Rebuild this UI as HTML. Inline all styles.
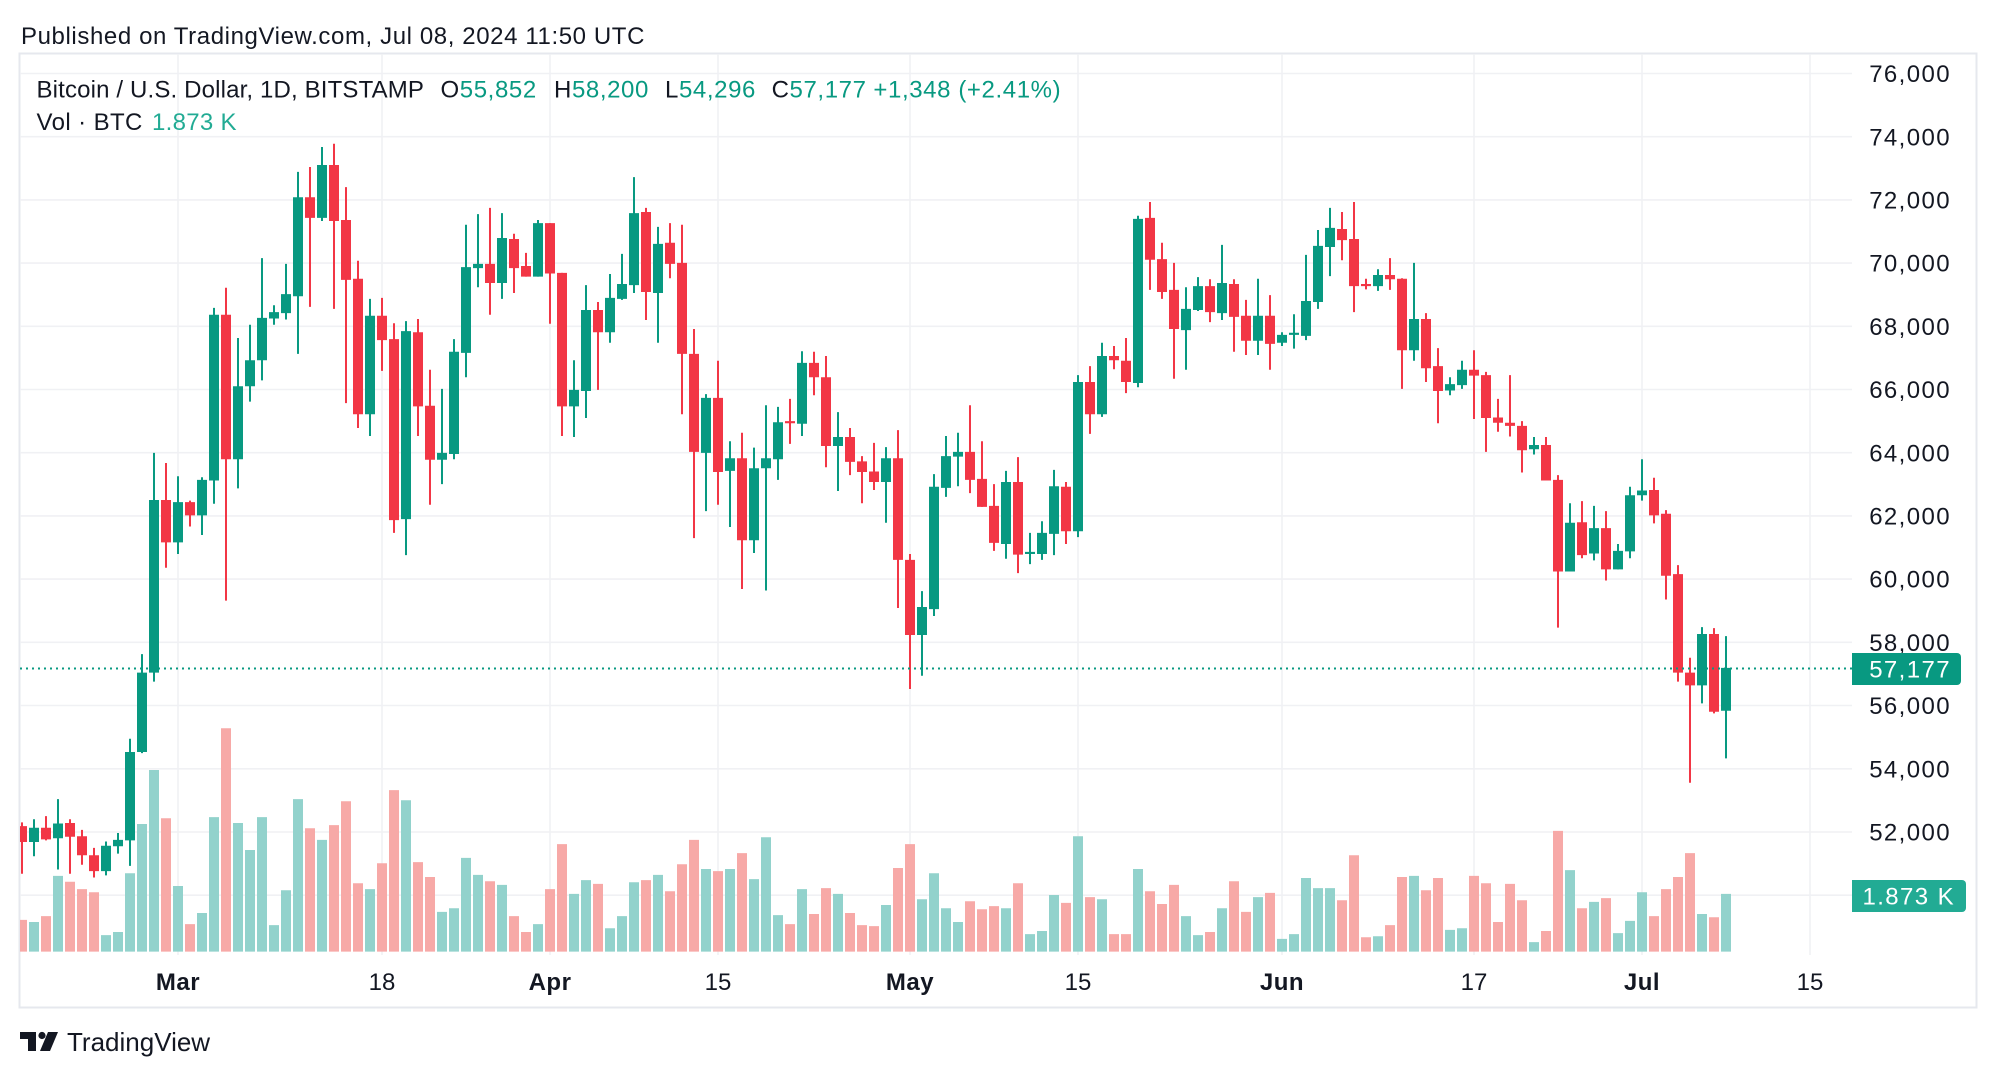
<!DOCTYPE html>
<html><head><meta charset="utf-8"><style>
html,body{margin:0;padding:0;background:#fff;width:1996px;height:1078px;overflow:hidden}
svg{display:block;font-family:"Liberation Sans",sans-serif}
.t{fill:#131722}
.gn{fill:#089981}
.px{font-size:24px;letter-spacing:1.4px;fill:#131722}
</style></head><body>
<svg width="1996" height="1078" viewBox="0 0 1996 1078" xmlns="http://www.w3.org/2000/svg">
<defs><clipPath id="c"><rect x="20" y="54" width="1832" height="902"/></clipPath></defs>
<rect x="0" y="0" width="1996" height="1078" fill="#fff"/>
<text x="21" y="44" font-size="24" letter-spacing="0.6" class="t">Published on TradingView.com, Jul 08, 2024 11:50 UTC</text>
<rect x="19.5" y="53.5" width="1957" height="954" fill="none" stroke="#e6e8ee" stroke-width="2"/>
<g stroke="#f0f1f4" stroke-width="1.6">
<line x1="20" x2="1852" y1="73.5" y2="73.5"/><line x1="20" x2="1852" y1="136.7" y2="136.7"/><line x1="20" x2="1852" y1="199.9" y2="199.9"/><line x1="20" x2="1852" y1="263.1" y2="263.1"/><line x1="20" x2="1852" y1="326.3" y2="326.3"/><line x1="20" x2="1852" y1="389.5" y2="389.5"/><line x1="20" x2="1852" y1="452.7" y2="452.7"/><line x1="20" x2="1852" y1="515.9" y2="515.9"/><line x1="20" x2="1852" y1="579.1" y2="579.1"/><line x1="20" x2="1852" y1="642.3" y2="642.3"/><line x1="20" x2="1852" y1="705.5" y2="705.5"/><line x1="20" x2="1852" y1="768.8" y2="768.8"/><line x1="20" x2="1852" y1="832" y2="832"/><line x1="20" x2="1852" y1="895.2" y2="895.2"/>
<line x1="178" x2="178" y1="54" y2="955"/><line x1="382" x2="382" y1="54" y2="955"/><line x1="550" x2="550" y1="54" y2="955"/><line x1="718" x2="718" y1="54" y2="955"/><line x1="910" x2="910" y1="54" y2="955"/><line x1="1078" x2="1078" y1="54" y2="955"/><line x1="1282" x2="1282" y1="54" y2="955"/><line x1="1474" x2="1474" y1="54" y2="955"/><line x1="1642" x2="1642" y1="54" y2="955"/><line x1="1810" x2="1810" y1="54" y2="955"/>
</g>
<g clip-path="url(#c)">
<g transform="translate(17,130) scale(12,0.52938)">
<path fill="#92d2cc" d="M1 1496h.8333V1552h-.8333zM3 1409h.8333V1552h-.8333zM7 1521h.8333V1552h-.8333zM8 1515h.8333V1552h-.8333zM9 1404h.8333V1552h-.8333zM10 1311h.8333V1552h-.8333zM11 1209h.8333V1552h-.8333zM13 1428h.8333V1552h-.8333zM15 1479h.8333V1552h-.8333zM16 1298h.8333V1552h-.8333zM18 1309h.8333V1552h-.8333zM19 1360h.8333V1552h-.8333zM20 1298h.8333V1552h-.8333zM21 1502h.8333V1552h-.8333zM22 1436h.8333V1552h-.8333zM23 1264h.8333V1552h-.8333zM25 1341h.8333V1552h-.8333zM29 1434h.8333V1552h-.8333zM32 1266h.8333V1552h-.8333zM35 1477h.8333V1552h-.8333zM36 1470h.8333V1552h-.8333zM37 1375h.8333V1552h-.8333zM38 1407h.8333V1552h-.8333zM40 1426h.8333V1552h-.8333zM43 1500h.8333V1552h-.8333zM46 1443h.8333V1552h-.8333zM47 1417h.8333V1552h-.8333zM49 1508h.8333V1552h-.8333zM50 1485h.8333V1552h-.8333zM51 1421h.8333V1552h-.8333zM53 1407h.8333V1552h-.8333zM57 1396h.8333V1552h-.8333zM59 1396h.8333V1552h-.8333zM61 1415h.8333V1552h-.8333zM62 1336h.8333V1552h-.8333zM63 1483h.8333V1552h-.8333zM65 1434h.8333V1552h-.8333zM68 1443h.8333V1552h-.8333zM72 1464h.8333V1552h-.8333zM75 1453h.8333V1552h-.8333zM76 1404h.8333V1552h-.8333zM77 1470h.8333V1552h-.8333zM78 1496h.8333V1552h-.8333zM82 1470h.8333V1552h-.8333zM84 1519h.8333V1552h-.8333zM85 1513h.8333V1552h-.8333zM86 1445h.8333V1552h-.8333zM88 1334h.8333V1552h-.8333zM90 1453h.8333V1552h-.8333zM93 1396h.8333V1552h-.8333zM97 1485h.8333V1552h-.8333zM98 1521h.8333V1552h-.8333zM100 1470h.8333V1552h-.8333zM103 1449h.8333V1552h-.8333zM105 1528h.8333V1552h-.8333zM106 1519h.8333V1552h-.8333zM107 1413h.8333V1552h-.8333zM108 1432h.8333V1552h-.8333zM109 1432h.8333V1552h-.8333zM113 1523h.8333V1552h-.8333zM116 1409h.8333V1552h-.8333zM119 1511h.8333V1552h-.8333zM120 1508h.8333V1552h-.8333zM126 1534h.8333V1552h-.8333zM129 1398h.8333V1552h-.8333zM131 1458h.8333V1552h-.8333zM133 1517h.8333V1552h-.8333zM134 1494h.8333V1552h-.8333zM135 1440h.8333V1552h-.8333zM140 1481h.8333V1552h-.8333zM142 1443h.8333V1552h-.8333z"/>
<path fill="#f7a9a7" d="M0 1492h.8333V1552h-.8333zM2 1485h.8333V1552h-.8333zM4 1420h.8333V1552h-.8333zM5 1434h.8333V1552h-.8333zM6 1440h.8333V1552h-.8333zM12 1300h.8333V1552h-.8333zM14 1500h.8333V1552h-.8333zM17 1130h.8333V1552h-.8333zM24 1319h.8333V1552h-.8333zM26 1313h.8333V1552h-.8333zM27 1268h.8333V1552h-.8333zM28 1423h.8333V1552h-.8333zM30 1385h.8333V1552h-.8333zM31 1247h.8333V1552h-.8333zM33 1383h.8333V1552h-.8333zM34 1411h.8333V1552h-.8333zM39 1419h.8333V1552h-.8333zM41 1485h.8333V1552h-.8333zM42 1515h.8333V1552h-.8333zM44 1434h.8333V1552h-.8333zM45 1349h.8333V1552h-.8333zM48 1424h.8333V1552h-.8333zM52 1417h.8333V1552h-.8333zM54 1438h.8333V1552h-.8333zM55 1387h.8333V1552h-.8333zM56 1341h.8333V1552h-.8333zM58 1400h.8333V1552h-.8333zM60 1366h.8333V1552h-.8333zM64 1500h.8333V1552h-.8333zM66 1481h.8333V1552h-.8333zM67 1432h.8333V1552h-.8333zM69 1479h.8333V1552h-.8333zM70 1502h.8333V1552h-.8333zM71 1504h.8333V1552h-.8333zM73 1394h.8333V1552h-.8333zM74 1349h.8333V1552h-.8333zM79 1457h.8333V1552h-.8333zM80 1472h.8333V1552h-.8333zM81 1466h.8333V1552h-.8333zM83 1423h.8333V1552h-.8333zM87 1460h.8333V1552h-.8333zM89 1449h.8333V1552h-.8333zM91 1519h.8333V1552h-.8333zM92 1519h.8333V1552h-.8333zM94 1438h.8333V1552h-.8333zM95 1462h.8333V1552h-.8333zM96 1426h.8333V1552h-.8333zM99 1515h.8333V1552h-.8333zM101 1419h.8333V1552h-.8333zM102 1477h.8333V1552h-.8333zM104 1441h.8333V1552h-.8333zM110 1455h.8333V1552h-.8333zM111 1370h.8333V1552h-.8333zM112 1525h.8333V1552h-.8333zM114 1502h.8333V1552h-.8333zM115 1411h.8333V1552h-.8333zM117 1436h.8333V1552h-.8333zM118 1413h.8333V1552h-.8333zM121 1409h.8333V1552h-.8333zM122 1423h.8333V1552h-.8333zM123 1496h.8333V1552h-.8333zM124 1424h.8333V1552h-.8333zM125 1455h.8333V1552h-.8333zM127 1513h.8333V1552h-.8333zM128 1324h.8333V1552h-.8333zM130 1470h.8333V1552h-.8333zM132 1451h.8333V1552h-.8333zM136 1485h.8333V1552h-.8333zM137 1434h.8333V1552h-.8333zM138 1411h.8333V1552h-.8333zM139 1366h.8333V1552h-.8333zM141 1487h.8333V1552h-.8333z"/>
<g transform="translate(.3333,0)">
<path fill="#089981" d="M1 1302h.1667V1372h-.1667zM3 1264h.1667V1397h-.1667zM7 1344h.1667V1408h-.1667zM8 1328h.1667V1367h-.1667zM9 1150h.1667V1390h-.1667zM10 990h.1667V1177h-.1667zM11 610h.1667V1042h-.1667zM13 654h.1667V801h-.1667zM15 656h.1667V765h-.1667zM16 336h.1667V706h-.1667zM18 393h.1667V677h-.1667zM19 368h.1667V513h-.1667zM20 242h.1667V473h-.1667zM21 331h.1667V368h-.1667zM22 253h.1667V358h-.1667zM23 79h.1667V423h-.1667zM25 32h.1667V172h-.1667zM29 319h.1667V578h-.1667zM32 361h.1667V803h-.1667zM35 489h.1667V669h-.1667zM36 395h.1667V622h-.1667zM37 179h.1667V467h-.1667zM38 159h.1667V297h-.1667zM40 157h.1667V319h-.1667zM43 170h.1667V277h-.1667zM46 435h.1667V580h-.1667zM47 293h.1667V544h-.1667zM49 272h.1667V402h-.1667zM50 234h.1667V321h-.1667zM51 89h.1667V308h-.1667zM53 183h.1667V402h-.1667zM57 499h.1667V720h-.1667zM59 588h.1667V750h-.1667zM61 600h.1667V799h-.1667zM62 520h.1667V870h-.1667zM63 523h.1667V661h-.1667zM65 418h.1667V578h-.1667zM68 533h.1667V682h-.1667zM72 599h.1667V742h-.1667zM75 871h.1667V1031h-.1667zM76 650h.1667V918h-.1667zM77 578h.1667V693h-.1667zM78 572h.1667V673h-.1667zM82 644h.1667V810h-.1667zM84 761h.1667V820h-.1667zM85 739h.1667V812h-.1667zM86 642h.1667V803h-.1667zM88 463h.1667V769h-.1667zM90 402h.1667V542h-.1667zM93 162h.1667V486h-.1667zM97 297h.1667V453h-.1667zM98 278h.1667V342h-.1667zM100 217h.1667V359h-.1667zM103 281h.1667V425h-.1667zM105 382h.1667V408h-.1667zM106 348h.1667V413h-.1667zM107 236h.1667V397h-.1667zM108 189h.1667V338h-.1667zM109 147h.1667V276h-.1667zM113 263h.1667V304h-.1667zM116 251h.1667V436h-.1667zM119 467h.1667V501h-.1667zM120 436h.1667V489h-.1667zM126 580h.1667V613h-.1667zM129 705h.1667V834h-.1667zM131 710h.1667V813h-.1667zM133 782h.1667V830h-.1667zM134 674h.1667V809h-.1667zM135 622h.1667V700h-.1667zM140 939h.1667V1083h-.1667zM142 956h.1667V1187h-.1667z"/>
<path fill="#f23645" d="M0 1308h.1667V1405h-.1667zM2 1296h.1667V1342h-.1667zM4 1302h.1667V1405h-.1667zM5 1322h.1667V1388h-.1667zM6 1356h.1667V1412h-.1667zM12 629h.1667V827h-.1667zM14 700h.1667V749h-.1667zM17 298h.1667V889h-.1667zM24 70h.1667V334h-.1667zM26 26h.1667V338h-.1667zM27 108h.1667V516h-.1667zM28 247h.1667V563h-.1667zM30 317h.1667V455h-.1667zM31 365h.1667V761h-.1667zM33 357h.1667V578h-.1667zM34 453h.1667V708h-.1667zM39 147h.1667V349h-.1667zM41 196h.1667V308h-.1667zM42 232h.1667V277h-.1667zM44 176h.1667V366h-.1667zM45 270h.1667V578h-.1667zM48 325h.1667V491h-.1667zM52 147h.1667V359h-.1667zM54 176h.1667V280h-.1667zM55 179h.1667V537h-.1667zM56 376h.1667V771h-.1667zM58 436h.1667V708h-.1667zM60 572h.1667V867h-.1667zM64 508h.1667V593h-.1667zM66 419h.1667V501h-.1667zM67 427h.1667V637h-.1667zM69 563h.1667V652h-.1667zM70 616h.1667V705h-.1667zM71 591h.1667V680h-.1667zM73 567h.1667V903h-.1667zM74 801h.1667V1056h-.1667zM79 520h.1667V686h-.1667zM80 588h.1667V712h-.1667zM81 669h.1667V795h-.1667zM83 618h.1667V837h-.1667zM87 665h.1667V782h-.1667zM89 446h.1667V574h-.1667zM91 408h.1667V452h-.1667zM92 393h.1667V497h-.1667zM94 136h.1667V302h-.1667zM95 213h.1667V319h-.1667zM96 251h.1667V470h-.1667zM99 282h.1667V363h-.1667zM101 282h.1667V419h-.1667zM102 321h.1667V425h-.1667zM104 312h.1667V453h-.1667zM110 155h.1667V246h-.1667zM111 136h.1667V344h-.1667zM112 281h.1667V301h-.1667zM114 242h.1667V302h-.1667zM115 280h.1667V489h-.1667zM117 346h.1667V476h-.1667zM118 412h.1667V554h-.1667zM121 416h.1667V546h-.1667zM122 457h.1667V608h-.1667zM123 508h.1667V570h-.1667zM124 463h.1667V579h-.1667zM125 550h.1667V647h-.1667zM127 580h.1667V662h-.1667zM128 652h.1667V940h-.1667zM130 701h.1667V809h-.1667zM132 720h.1667V851h-.1667zM136 657h.1667V743h-.1667zM137 718h.1667V887h-.1667zM138 822h.1667V1042h-.1667zM139 997h.1667V1233h-.1667zM141 941h.1667V1102h-.1667z"/>
</g>
<path fill="#089981" d="M1 1318h.8333V1345h-.8333zM3 1310h.8333V1338h-.8333zM7 1352h.8333V1400h-.8333zM8 1341h.8333V1353h-.8333zM9 1175h.8333V1342h-.8333zM10 1025h.8333V1175h-.8333zM11 699h.8333V1025h-.8333zM13 703h.8333V779h-.8333zM15 661h.8333V728h-.8333zM16 349h.8333V662h-.8333zM18 484h.8333V622h-.8333zM19 435h.8333V484h-.8333zM20 355h.8333V435h-.8333zM21 344h.8333V356h-.8333zM22 310h.8333V346h-.8333zM23 127h.8333V314h-.8333zM25 66h.8333V166h-.8333zM29 351h.8333V537h-.8333zM32 380h.8333V735h-.8333zM35 610h.8333V623h-.8333zM36 419h.8333V612h-.8333zM37 259h.8333V421h-.8333zM38 253h.8333V261h-.8333zM40 204h.8333V289h-.8333zM43 176h.8333V277h-.8333zM46 491h.8333V522h-.8333zM47 340h.8333V493h-.8333zM49 317h.8333V382h-.8333zM50 291h.8333V319h-.8333zM51 157h.8333V293h-.8333zM53 215h.8333V308h-.8333zM57 506h.8333V610h-.8333zM59 620h.8333V644h-.8333zM61 639h.8333V775h-.8333zM62 620h.8333V639h-.8333zM63 552h.8333V622h-.8333zM65 440h.8333V555h-.8333zM68 580h.8333V597h-.8333zM72 620h.8333V665h-.8333zM75 901h.8333V954h-.8333zM76 674h.8333V905h-.8333zM77 616h.8333V676h-.8333zM78 608h.8333V617h-.8333zM82 665h.8333V782h-.8333zM84 797h.8333V801h-.8333zM85 761h.8333V801h-.8333zM86 673h.8333V763h-.8333zM88 476h.8333V758h-.8333zM90 427h.8333V537h-.8333zM93 168h.8333V478h-.8333zM97 338h.8333V378h-.8333zM98 295h.8333V340h-.8333zM100 289h.8333V346h-.8333zM103 351h.8333V398h-.8333zM105 387h.8333V402h-.8333zM106 383h.8333V387h-.8333zM107 323h.8333V389h-.8333zM108 219h.8333V325h-.8333zM109 185h.8333V221h-.8333zM113 274h.8333V295h-.8333zM116 357h.8333V416h-.8333zM119 480h.8333V492h-.8333zM120 453h.8333V482h-.8333zM126 595h.8333V603h-.8333zM129 742h.8333V834h-.8333zM131 752h.8333V800h-.8333zM133 795h.8333V830h-.8333zM134 690h.8333V796h-.8333zM135 681h.8333V690h-.8333zM140 952h.8333V1049h-.8333zM142 1016h.8333V1097h-.8333z"/>
<path fill="#f23645" d="M0 1315h.8333V1345h-.8333zM2 1318h.8333V1340h-.8333zM4 1309h.8333V1335h-.8333zM5 1334h.8333V1370h-.8333zM6 1370h.8333V1400h-.8333zM12 699h.8333V779h-.8333zM14 703h.8333V728h-.8333zM17 349h.8333V622h-.8333zM24 127h.8333V166h-.8333zM26 66h.8333V172h-.8333zM27 170h.8333V283h-.8333zM28 281h.8333V537h-.8333zM30 351h.8333V397h-.8333zM31 395h.8333V737h-.8333zM33 382h.8333V522h-.8333zM34 521h.8333V623h-.8333zM39 253h.8333V289h-.8333zM41 206h.8333V261h-.8333zM42 257h.8333V277h-.8333zM44 176h.8333V271h-.8333zM45 270h.8333V522h-.8333zM48 340h.8333V382h-.8333zM52 155h.8333V306h-.8333zM54 213h.8333V253h-.8333zM55 251h.8333V423h-.8333zM56 423h.8333V608h-.8333zM58 506h.8333V646h-.8333zM60 620h.8333V775h-.8333zM64 550h.8333V554h-.8333zM66 440h.8333V467h-.8333zM67 467h.8333V597h-.8333zM69 580h.8333V627h-.8333zM70 626h.8333V646h-.8333zM71 645h.8333V665h-.8333zM73 620h.8333V812h-.8333zM74 812h.8333V954h-.8333zM79 608h.8333V661h-.8333zM80 659h.8333V712h-.8333zM81 710h.8333V780h-.8333zM83 665h.8333V802h-.8333zM87 674h.8333V758h-.8333zM89 476h.8333V537h-.8333zM91 427h.8333V435h-.8333zM92 436h.8333V476h-.8333zM94 166h.8333V245h-.8333zM95 244h.8333V306h-.8333zM96 302h.8333V376h-.8333zM99 295h.8333V344h-.8333zM101 291h.8333V353h-.8333zM102 351h.8333V398h-.8333zM104 351h.8333V404h-.8333zM110 187h.8333V208h-.8333zM111 206h.8333V295h-.8333zM112 291h.8333V295h-.8333zM114 274h.8333V282h-.8333zM115 281h.8333V416h-.8333zM117 357h.8333V450h-.8333zM118 446h.8333V493h-.8333zM121 453h.8333V464h-.8333zM122 463h.8333V544h-.8333zM123 543h.8333V553h-.8333zM124 553h.8333V559h-.8333zM125 559h.8333V605h-.8333zM127 595h.8333V662h-.8333zM128 661h.8333V834h-.8333zM130 741h.8333V803h-.8333zM132 752h.8333V830h-.8333zM136 680h.8333V728h-.8333zM137 725h.8333V842h-.8333zM138 839h.8333V1025h-.8333zM139 1025h.8333V1049h-.8333zM141 952h.8333V1099h-.8333z"/>
</g>
<line x1="20" x2="1852" y1="668.5" y2="668.5" stroke="#089981" stroke-width="2" stroke-dasharray="2 4"/>
</g>
<text x="36.5" y="97.5" font-size="24" letter-spacing="0.15" class="t">Bitcoin / U.S. Dollar, 1D, BITSTAMP</text>
<text x="440.5" y="97.5" font-size="24" letter-spacing="0.6" class="t">O<tspan class="gn">55,852</tspan></text>
<text x="554" y="97.5" font-size="24" letter-spacing="0.6" class="t">H<tspan class="gn">58,200</tspan></text>
<text x="665" y="97.5" font-size="24" letter-spacing="0.6" class="t">L<tspan class="gn">54,296</tspan></text>
<text x="771.6" y="97.5" font-size="24" letter-spacing="0.6" class="t">C<tspan class="gn">57,177</tspan></text>
<text x="873.4" y="97.5" font-size="24" letter-spacing="0.6" class="gn">+1,348 (+2.41%)</text>
<text x="36.5" y="130" font-size="24" letter-spacing="0.4" class="t">Vol · BTC</text>
<text x="152" y="130" font-size="24" letter-spacing="0.3" fill="#22ab94">1.873 K</text>
<g text-anchor="end" class="px">
<text x="1951" y="82.1">76,000</text><text x="1951" y="145.3">74,000</text><text x="1951" y="208.5">72,000</text><text x="1951" y="271.7">70,000</text><text x="1951" y="334.9">68,000</text><text x="1951" y="398.1">66,000</text><text x="1951" y="461.3">64,000</text><text x="1951" y="524.5">62,000</text><text x="1951" y="587.7">60,000</text><text x="1951" y="650.9">58,000</text><text x="1951" y="714.1">56,000</text><text x="1951" y="777.4">54,000</text><text x="1951" y="840.6">52,000</text>
</g>
<rect x="1852" y="653" width="109" height="32" rx="4" fill="#089981"/><rect x="1852" y="653" width="8" height="32" fill="#089981"/>
<text x="1951" y="677.6" text-anchor="end" font-size="24" letter-spacing="1.4" fill="#fff">57,177</text>
<rect x="1852" y="880" width="114" height="32" rx="4" fill="#22ab94"/><rect x="1852" y="880" width="8" height="32" fill="#22ab94"/>
<text x="1955" y="904.6" text-anchor="end" font-size="24" letter-spacing="1.4" fill="#fff">1.873 K</text>
<g text-anchor="middle" font-size="24" class="t">
<text x="178" y="990" font-weight="bold" letter-spacing="0.5">Mar</text>
<text x="382" y="990">18</text>
<text x="550" y="990" font-weight="bold" letter-spacing="0.5">Apr</text>
<text x="718" y="990">15</text>
<text x="910" y="990" font-weight="bold" letter-spacing="0.5">May</text>
<text x="1078" y="990">15</text>
<text x="1282" y="990" font-weight="bold" letter-spacing="0.5">Jun</text>
<text x="1474" y="990">17</text>
<text x="1642" y="990" font-weight="bold" letter-spacing="0.5">Jul</text>
<text x="1810" y="990">15</text>
</g>
<g fill="#131722">
<path d="M20 1032H36V1051H28V1039H20Z"/>
<circle cx="42" cy="1035.5" r="3.6"/>
<path d="M48 1032H58L50 1051H40Z"/>
</g>
<text x="67" y="1051" font-size="26" class="t">TradingView</text>
</svg>
</body></html>
